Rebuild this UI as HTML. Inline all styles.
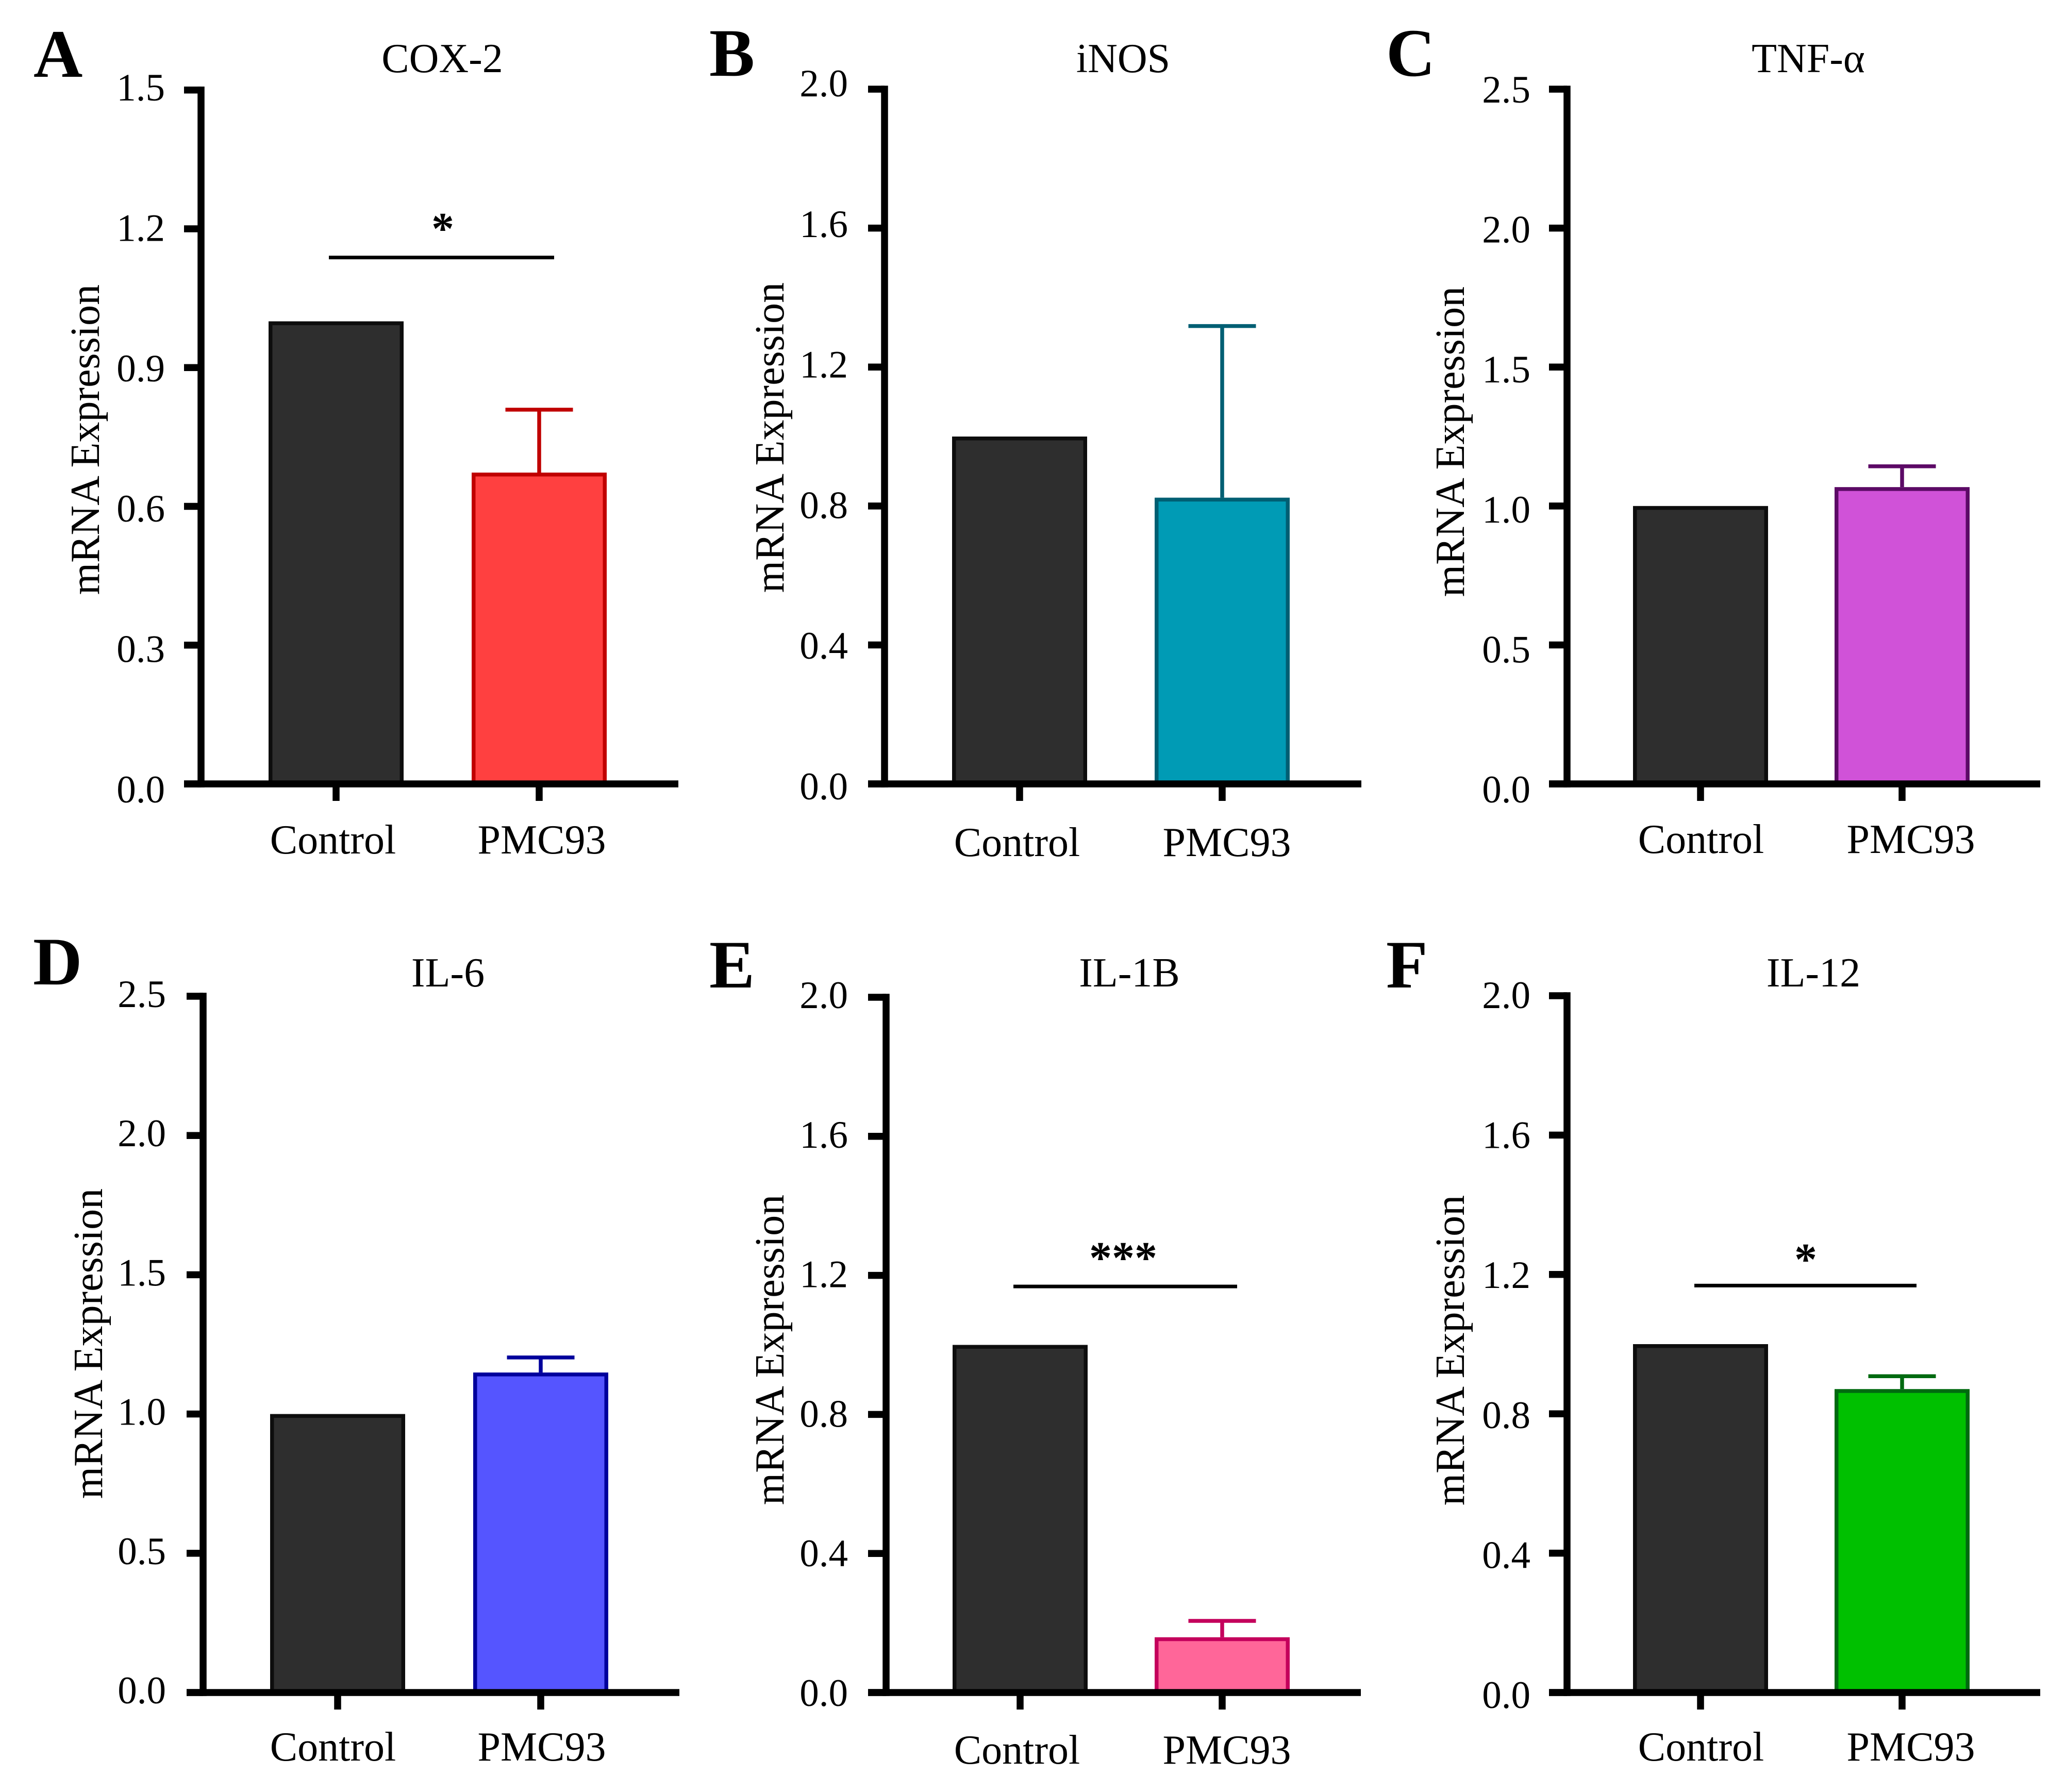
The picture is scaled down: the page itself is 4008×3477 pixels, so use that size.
<!DOCTYPE html>
<html>
<head>
<meta charset="utf-8">
<title>mRNA Expression panels</title>
<style>
html,body{margin:0;padding:0;background:#fff;}
svg{display:block;}
text{font-family:"Liberation Serif","Noto Serif CJK SC",serif;fill:#000;}
</style>
</head>
<body>
<svg id="figure" xmlns="http://www.w3.org/2000/svg" width="4008" height="3477" viewBox="0 0 4008 3477"></svg>
<script>
// ---- data ----
const categories = ['Control', 'PMC93'];
const panelLetters = ['A', 'B', 'C', 'D', 'E', 'F'];
const panelTitles = ['COX-2', 'iNOS', 'TNF-α', 'IL-6', 'IL-1B', 'IL-12'];
const yAxisTitle = 'mRNA Expression';
const tickLabelsA = ['0.0', '0.3', '0.6', '0.9', '1.2', '1.5'];
const tickLabelsB = ['0.0', '0.4', '0.8', '1.2', '1.6', '2.0'];
const tickLabelsC = ['0.0', '0.5', '1.0', '1.5', '2.0', '2.5'];
const tickLabelsD = ['0.0', '0.5', '1.0', '1.5', '2.0', '2.5'];
const tickLabelsE = ['0.0', '0.4', '0.8', '1.2', '1.6', '2.0'];
const tickLabelsF = ['0.0', '0.4', '0.8', '1.2', '1.6', '2.0'];
const controlValues = [1.0, 1.0, 1.0, 1.0, 1.0, 1.0];
const treatedValues = [0.673, 0.824, 1.068, 1.149, 0.159, 0.871];
const treatedErrorTops = [0.809, 1.318, 1.143, 1.203, 0.206, 0.908];
const significanceLevels = [1.138, null, null, null, 1.168, 1.168];
const significanceMarks = ['*', '', '', '', '***', '*'];

// ---- layout and styling (not data) ----
const layouts = [
  {ax:390, tl:357, xr:1316, top:174.7, y0:1521, t1:652, t2:1046, labTop:195, lab0:1557, labR:320, ylX:192, ylY:853, tX:858, tY:140, cX:646, pX:1051, catY:1656, lX:65, lY:149, sL:638, sR:1075, sX:859, sY:473},
  {ax:1716, tl:1684, xr:2641, top:173, y0:1521, t1:1978, t2:2371, labTop:187, lab0:1551, labR:1645, ylX:1520, ylY:849, tX:2179, tY:140, cX:1973, pX:2380, catY:1661, lX:1376, lY:147},
  {ax:3040, tl:3005, xr:3958, top:173, y0:1521, t1:3299, t2:3690, labTop:199, lab0:1557, labR:2969, ylX:2840, ylY:857, tX:3508, tY:140, cX:3300, pX:3707, catY:1655, lX:2689, lY:147},
  {ax:394, tl:362, xr:1318, top:1933, y0:3284, t1:655, t2:1049, labTop:1954, lab0:3305, labR:322, ylX:198, ylY:2607, tX:869, tY:1914, cX:646, pX:1051, catY:3416, lX:64, lY:1910},
  {ax:1719, tl:1684, xr:2640, top:1935, y0:3284, t1:1979, t2:2371, labTop:1956, lab0:3310, labR:1645, ylX:1520, ylY:2619, tX:2191, tY:1914, cX:1973, pX:2380, catY:3422, lX:1376, lY:1916, sL:1966, sR:2400, sX:2179, sY:2470},
  {ax:3040, tl:3005, xr:3958, top:1932, y0:3284, t1:3299, t2:3690, labTop:1956, lab0:3314, labR:2969, ylX:2840, ylY:2620, tX:3518, tY:1914, cX:3300, pX:3707, catY:3416, lX:2689, lY:1916, sL:3287, sR:3718, sX:3503, sY:2473}
];
const fills = ['#ff4040', '#009bb5', '#d052d8', '#5555ff', '#ff6699', '#00c000'];
const strokes = ['#c00000', '#005f73', '#5c0a66', '#00009c', '#c4005c', '#006a10'];
const tickSets = [tickLabelsA, tickLabelsB, tickLabelsC, tickLabelsD, tickLabelsE, tickLabelsF];

const AXW = 13.5, BARW = 7.5, BARHALF = 131, CAPHALF = 65.5;
const svg = document.getElementById('figure');
const NS = 'http://www.w3.org/2000/svg';

function mk(parent, tag, props, content) {
  const el = document.createElementNS(NS, tag);
  for (const k in props) el.setAttribute(k, props[k]);
  if (content !== undefined) el.textContent = content;
  parent.appendChild(el);
  return el;
}

panelLetters.forEach((letter, i) => {
  const L = layouts[i];
  const ticks = tickSets[i];
  const maxV = parseFloat(ticks[ticks.length - 1]);
  const yScale = v => L.y0 - (v / maxV) * (L.y0 - L.top);
  const labelY = v => L.lab0 - (v / maxV) * (L.lab0 - L.labTop);
  const xCenters = [L.t1, L.t2];

  const g = mk(svg, 'g', {});
  
  

  const panelLetter = mk(g, 'text', {x: L.lX, y: L.lY, 'font-size': 132, 'font-weight': 'bold'}, letter);
  
  

  const title = mk(g, 'text', {x: L.tX, y: L.tY, 'font-size': 80, 'text-anchor': 'middle'}, panelTitles[i]);
  
  

  const yTitle = mk(g, 'text', {x: L.ylX, y: L.ylY, 'font-size': 80, 'text-anchor': 'middle', transform: 'rotate(-90 ' + L.ylX + ' ' + L.ylY + ')'}, yAxisTitle);
  
  

  // bars
  [controlValues[i], treatedValues[i]].forEach((v, b) => {
    const top = yScale(v);
    const fill = b === 0 ? '#2e2e2e' : fills[i];
    const stroke = b === 0 ? '#0d0d0d' : strokes[i];
    if (b === 1) {
      const stem = mk(g, 'line', {x1: xCenters[b], x2: xCenters[b], y1: yScale(treatedErrorTops[i]), y2: top, stroke: stroke, 'stroke-width': BARW});
      
      
      const cap = mk(g, 'line', {x1: xCenters[b] - CAPHALF, x2: xCenters[b] + CAPHALF, y1: yScale(treatedErrorTops[i]), y2: yScale(treatedErrorTops[i]), stroke: stroke, 'stroke-width': BARW});
      
      
    }
    const bar = mk(g, 'rect', {x: xCenters[b] - BARHALF + BARW / 2, y: top + BARW / 2, width: 2 * BARHALF - BARW, height: Math.max(0, L.y0 - top - BARW / 2), fill: fill, stroke: stroke, 'stroke-width': BARW});
    
    
  });

  // y axis
  const yAxis = mk(g, 'rect', {x: L.ax - AXW / 2, y: L.top - AXW / 2, width: AXW, height: L.y0 - L.top + AXW, fill: '#000'});
  
  

  ticks.forEach(t => {
    const v = parseFloat(t);
    const tick = mk(g, 'rect', {x: L.tl, y: yScale(v) - AXW / 2, width: L.ax - L.tl, height: AXW, fill: '#000'});
    
    
    const lab = mk(g, 'text', {x: L.labR, y: labelY(v), 'font-size': 75, 'text-anchor': 'end'}, t);
    
    
  });

  // x axis
  const xAxis = mk(g, 'rect', {x: L.tl, y: L.y0 - AXW / 2, width: L.xr - L.tl, height: AXW, fill: '#000'});
  
  

  const catX = [L.cX, L.pX];
  categories.forEach((c, b) => {
    const tick = mk(g, 'rect', {x: xCenters[b] - AXW / 2, y: L.y0, width: AXW, height: 33, fill: '#000'});
    
    
    const lab = mk(g, 'text', {x: catX[b], y: L.catY, 'font-size': 80, 'text-anchor': 'middle'}, c);
    
    
  });

  // significance
  if (significanceLevels[i] !== null) {
    const sy = yScale(significanceLevels[i]);
    const sig = mk(g, 'line', {x1: L.sL, x2: L.sR, y1: sy, y2: sy, stroke: '#000', 'stroke-width': 7});
    
    
    const star = mk(g, 'text', {x: L.sX, y: L.sY, 'font-size': 88, 'font-weight': 'bold', 'text-anchor': 'middle'}, significanceMarks[i]);
    
    
  }
});
</script>
</body>
</html>
